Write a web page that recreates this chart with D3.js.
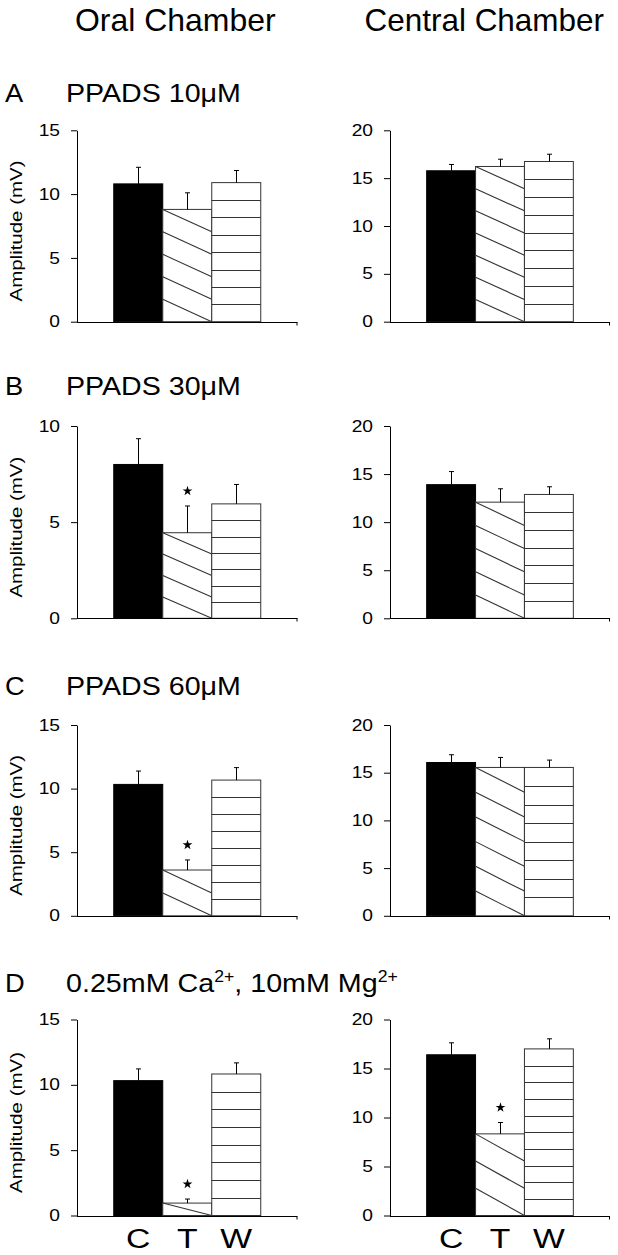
<!DOCTYPE html>
<html><head><meta charset="utf-8">
<script src="https://cdn.jsdelivr.net/npm/d3@7"></script>
<style>
body{margin:0;background:#fff}
svg{display:block}
text{font-family:"Liberation Sans",Arial,Helvetica,sans-serif;fill:#000}
</style>
</head><body>
<svg id="c" width="618" height="1255"></svg>
<script>
// ---------------- data ----------------
const categories = ["C", "T", "W"];
const chamberTitles = ["Oral Chamber", "Central Chamber"];
const panelLetters = ["A", "B", "C", "D"];
// title segments: [text, isSuperscript]
const panelTitles = [
  [["PPADS 10μM", false]],
  [["PPADS 30μM", false]],
  [["PPADS 60μM", false]],
  [["0.25mM Ca", false], ["2+", true], [", 10mM Mg", false], ["2+", true]]
];
const yLabel = "Amplitude (mV)";

const oralMax = [15, 10, 15, 15];
const oralMeans = [
  [10.8, 8.8, 10.9],
  [8.0, 4.45, 5.95],
  [10.33, 3.6, 10.67],
  [10.32, 0.95, 10.83]
];
const oralErrs = [
  [1.3, 1.3, 0.95],
  [1.34, 1.39, 1.01],
  [1.05, 0.79, 0.98],
  [0.9, 0.31, 0.85]
];
const oralSig = [
  [false, false, false],
  [false, true, false],
  [false, true, false],
  [false, true, false]
];

const centralMax = [20, 20, 20, 20];
const centralMeans = [
  [15.77, 16.22, 16.74],
  [13.9, 12.08, 12.88],
  [16.07, 15.55, 15.55],
  [16.4, 8.33, 17.0]
];
const centralErrs = [
  [0.66, 0.76, 0.76],
  [1.36, 1.39, 0.8],
  [0.81, 1.05, 0.77],
  [1.22, 1.16, 1.03]
];
const centralSig = [
  [false, false, false],
  [false, false, false],
  [false, false, false],
  [false, true, false]
];
const tickStep = 5;

// ---------------- layout ----------------
const svg = d3.select("#c");
const yRanges = [[321.7, 130.3], [618.3, 426], [915.8, 725], [1215.5, 1019.5]];
const titleBase = [101.7, 395, 695, 991.7];
const columns = [
  {x0: 77, x1: 297.5, max: oralMax, means: oralMeans, errs: oralErrs, sig: oralSig, ylab: true},
  {x0: 390, x1: 610, max: centralMax, means: centralMeans, errs: centralErrs, sig: centralSig, ylab: false}
];
const TXT_SX = 1.2;   // horizontal stretch of the original's lettering
const LINE = "#333";

function fitText(sel, x, y, target) {
  const w = sel.node().getBBox().width;
  sel.attr("transform", `translate(${x},${y}) scale(${target / w},1)`);
}

// headers
[[75, 201], [364.5, 240]].forEach((p, j) => {
  const t = svg.append("text").attr("font-size", 32).text(chamberTitles[j]);
  fitText(t, p[0], 30.5, p[1]);
});

// panel letters and titles
panelLetters.forEach((L, i) => {
  svg.append("text").attr("font-size", 26)
    .attr("transform", `translate(5,${titleBase[i]}) scale(1.05,1)`).text(L);
  const t = svg.append("text").attr("font-size", 26);
  panelTitles[i].forEach(seg => {
    const ts = t.append("tspan").text(seg[0]);
    if (seg[1]) ts.attr("font-size", 16).attr("dy", -10);
    else ts.attr("dy", t.selectAll("tspan").size() > 1 ? 10 : 0);
  });
  fitText(t, 66, titleBase[i], i === 3 ? 332 : 175);
});

function drawChart(i, c) {
  const [yb, yt] = yRanges[i];
  const max = c.max[i];
  const y = d3.scaleLinear().domain([0, max]).range([yb, yt]);
  const x = d3.scaleBand().domain(categories).range([c.x0, c.x1]).paddingInner(0).paddingOuter(0.75);
  const g = svg.append("g");
  const bw = x.bandwidth();

  categories.forEach((cat, k) => {
    const v = c.means[i][k];
    const bx = x(cat), top = y(v), bot = y(0), h = bot - top;
    if (k === 0) {
      g.append("rect").attr("x", bx).attr("y", top).attr("width", bw).attr("height", h)
        .attr("fill", "#000").attr("stroke", "#000");
    } else {
      g.append("rect").attr("x", bx).attr("y", top).attr("width", bw).attr("height", h)
        .attr("fill", "#fff");
      if (k === 1) {
        const n = Math.max(1, Math.round(h / 23.5)), s = h / n;
        for (let m = 0; m < n; m++) {
          g.append("line").attr("x1", bx).attr("y1", top + m * s)
            .attr("x2", bx + bw).attr("y2", top + (m + 1) * s)
            .attr("stroke", LINE).attr("stroke-width", 1.1);
        }
      } else {
        const n = Math.max(1, Math.round(h / 17.5)), s = h / n;
        for (let m = 1; m < n; m++) {
          const yy = Math.round(top + m * s) + 0.5;
          g.append("line").attr("x1", bx).attr("y1", yy).attr("x2", bx + bw).attr("y2", yy)
            .attr("stroke", LINE).attr("stroke-width", 1);
        }
      }
      g.append("rect").attr("x", bx).attr("y", top).attr("width", bw).attr("height", h)
        .attr("fill", "none").attr("stroke", LINE);
    }
    // error bar (upper only)
    const cx = Math.round(bx + bw / 2) + 0.5;
    const ye = y(v + c.errs[i][k]);
    g.append("line").attr("x1", cx).attr("x2", cx).attr("y1", top).attr("y2", ye)
      .attr("stroke", "#000").attr("stroke-width", 1);
    g.append("line").attr("x1", cx - 2.5).attr("x2", cx + 2.5).attr("y1", ye).attr("y2", ye)
      .attr("stroke", "#000").attr("stroke-width", 1);
    if (c.sig[i][k]) {
      g.append("path").attr("d", d3.symbol(d3.symbolStar, 30)())
        .attr("transform", `translate(${cx},${ye - 15})`).attr("fill", "#000");
    }
  });

  // y axis
  const ax = g.append("g").attr("transform", `translate(${c.x0},0)`)
    .call(d3.axisLeft(y).tickValues(d3.range(0, max + 0.1, tickStep)).tickSize(6).tickSizeOuter(0).tickPadding(11));
  ax.attr("font-size", 16).attr("font-family", null);
  ax.selectAll("path,line").attr("stroke", "#000");
  ax.selectAll("text").attr("x", 0).attr("transform", `translate(-17,0) scale(${TXT_SX},1)`);

  // x axis line
  const y0 = Math.round(y(0)) + 0.5;
  g.append("line").attr("x1", c.x0).attr("x2", c.x1).attr("y1", y0).attr("y2", y0).attr("stroke", "#000");
  g.append("line").attr("x1", c.x1 - 0.5).attr("x2", c.x1 - 0.5).attr("y1", y0).attr("y2", y0 + 3).attr("stroke", "#000");

  if (c.ylab) {
    const t = g.append("text").attr("font-size", 16).attr("text-anchor", "middle").text(yLabel);
    const w = t.node().getComputedTextLength();
    t.attr("transform", `translate(21.5,${(yb + yt) / 2 + 5}) rotate(-90) scale(${141 / w},1)`);
  }
  if (i === 3) {
    categories.forEach(cat => {
      g.append("text").attr("font-size", 27).attr("text-anchor", "middle")
        .attr("transform", `translate(${x(cat) + bw / 2},1248) scale(1.25,1)`).text(cat);
    });
  }
}

panelLetters.forEach((L, i) => columns.forEach(c => drawChart(i, c)));
</script>
</body></html>
